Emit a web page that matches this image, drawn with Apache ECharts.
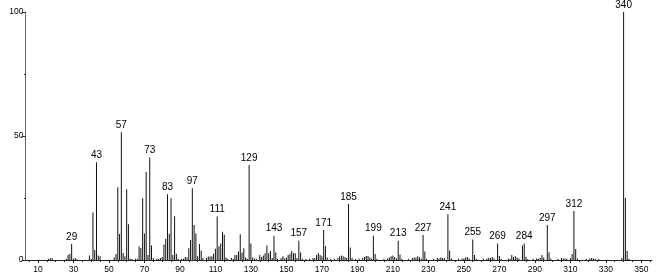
<!DOCTYPE html>
<html>
<head>
<meta charset="utf-8">
<script src="https://cdn.jsdelivr.net/npm/echarts@6/dist/echarts.min.js"></script>
<style>html,body{margin:0;padding:0;background:#fff}#c{width:656px;height:277px}</style>
</head>
<body>
<div id="c"></div>
<script>
// m/z values and relative intensities (%)
const mz = [16,17,18,26,27,28,29,30,31,32,39,40,41,42,43,44,45,53,54,55,56,57,58,59,60,61,62,63,65,66,67,68,69,70,71,72,73,74,75,77,78,79,80,81,82,83,84,85,86,87,88,89,91,92,93,94,95,96,97,98,99,100,101,102,103,105,106,107,108,109,110,111,112,113,114,115,116,117,119,120,121,122,123,124,125,126,127,128,129,130,131,132,133,135,136,137,138,139,140,141,142,143,144,145,147,148,149,150,151,152,153,154,155,156,157,158,159,161,163,165,166,167,168,169,170,171,172,173,175,177,179,180,181,182,183,184,185,186,187,189,191,193,194,195,196,197,198,199,200,201,205,207,208,209,210,211,212,213,214,215,219,221,222,223,224,225,226,227,228,229,233,235,236,237,238,239,241,242,243,247,249,250,251,252,253,255,256,257,261,263,264,265,266,267,269,270,271,275,276,277,278,279,280,281,283,284,285,286,289,291,292,293,294,295,297,298,299,303,305,306,307,308,310,311,312,313,314,319,321,322,323,324,326,339,340,341,342,343];
const intensity = [0.5,0.6,0.8,0.5,2.0,2.5,6.5,0.5,0.8,0.3,1.8,0.5,19.2,4.0,39.4,1.8,1.5,1.0,2.4,29.3,10.5,51.5,2.8,1.5,28.5,14.4,0.5,0.4,0.5,0.5,5.4,4.8,24.9,10.7,35.5,2.0,41.3,5.8,0.8,0.5,0.4,0.8,1.2,6.3,8.5,26.5,10.6,24.9,2.0,17.6,2.5,0.5,0.5,0.5,1.2,1.0,4.7,8.1,28.9,14.1,10.7,1.5,6.5,3.8,0.8,0.8,1.4,1.4,1.5,2.5,4.5,17.5,5.5,6.7,11.4,10.2,1.0,0.5,0.8,0.5,2.0,2.0,3.4,10.4,3.0,4.7,1.0,0.5,38.3,6.7,1.0,0.5,0.5,2.0,1.2,1.8,2.7,5.8,2.7,3.6,0.8,9.8,3.0,0.5,0.8,1.5,0.6,1.0,2.0,2.5,3.6,2.7,2.7,0.8,7.8,3.0,0.5,0.4,0.5,0.8,0.8,2.0,2.8,2.0,1.5,12.1,5.6,1.0,0.5,0.5,0.8,1.5,1.8,1.5,1.2,0.8,22.6,5.0,0.8,0.4,0.5,0.8,1.2,1.6,1.6,1.0,0.6,9.8,2.4,0.5,0.5,0.6,1.0,1.5,1.8,1.2,0.6,7.8,2.2,0.5,0.5,0.8,1.0,1.0,1.5,1.0,0.5,10.1,3.4,0.5,0.5,0.8,0.6,1.0,0.8,0.8,18.4,3.8,0.6,0.5,0.6,0.6,1.0,1.2,0.6,8.3,2.0,0.5,0.5,0.6,0.8,0.8,1.2,0.6,6.7,1.6,0.5,0.6,0.5,2.0,1.2,1.5,1.0,0.6,5.8,6.7,1.3,0.4,0.5,0.6,0.5,0.8,2.0,1.0,14.1,3.1,0.5,0.5,0.8,0.6,0.6,0.5,0.8,2.4,19.8,4.4,0.6,0.5,0.6,0.8,0.6,0.5,0.4,0.8,100,25.1,3.6,0.5];
// peaks that carry an m/z label
const labeledPeaks = [29,43,57,73,83,97,111,129,143,157,171,185,199,213,227,241,255,269,284,297,312,340];
// axis tick labels
const xTickValues = [10,30,50,70,90,110,130,150,170,190,210,230,250,270,290,310,330,350];
const xMinorTickValues = [5,15,20,25,35,40,45,55,60,65,75,80,85,95,100,105,115,120,125,135,140,145,155,160,165,175,180,185,195,200,205,215,220,225,235,240,245,255,260,265,275,280,285,295,300,305,315,320,325,335,340,345,355];
const yTickValues = [0,50,100];

const chart = echarts.init(document.getElementById('c'), null, {renderer:'canvas'});
const data = mz.map((m,i)=>({
  value:[m, intensity[i]],
  label:{show: labeledPeaks.includes(m)}
}));
chart.setOption({
  animation:false,
  grid:{left:25.5, right:4, top:12, bottom:17},
  xAxis:[{
    type:'value', min:3, max:356,
    axisLine:{show:true, lineStyle:{color:'#222', width:1}},
    axisTick:{show:true, length:3, lineStyle:{color:'#222'}, customValues:xTickValues},
    axisLabel:{show:true, margin:5, fontSize:8.5, fontFamily:'Liberation Sans', color:'#000', customValues:xTickValues},
    splitLine:{show:false}
  },{
    type:'value', min:3, max:356, position:'bottom',
    axisLine:{show:false},
    axisTick:{show:true, length:2, lineStyle:{color:'#222'}, customValues:xMinorTickValues},
    axisLabel:{show:false},
    splitLine:{show:false}
  }],
  yAxis:{
    type:'value', min:0, max:100, interval:50,
    axisLine:{show:true, lineStyle:{color:'#666', width:1}},
    axisTick:{show:true, length:4, lineStyle:{color:'#333'}, customValues:yTickValues},
    minorTick:{show:true, splitNumber:2, length:1.5, lineStyle:{color:'#333'}},
    axisLabel:{show:true, margin:2, fontSize:8.5, fontFamily:'Liberation Sans', color:'#000', customValues:yTickValues},
    splitLine:{show:false}
  },
  series:[{
    type:'bar',
    xAxisIndex:0,
    barWidth:1,
    itemStyle:{color:'#111'},
    label:{position:'top', distance:2, fontSize:10, fontFamily:'Liberation Sans', color:'#000',
      formatter:p=>String(p.value[0])},
    data:data
  }]
});
</script>
</body>
</html>
